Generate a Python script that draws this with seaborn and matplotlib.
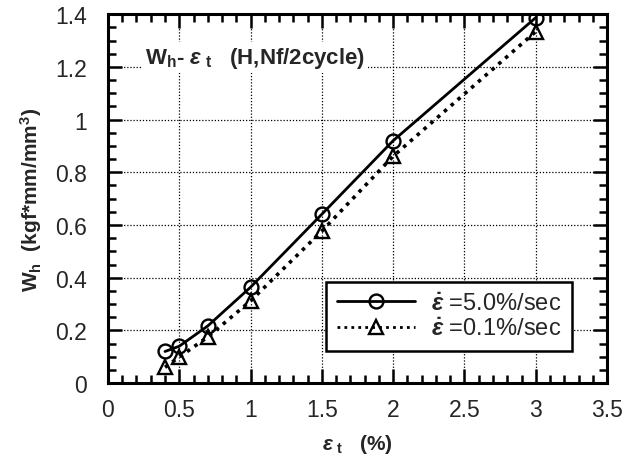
import matplotlib
matplotlib.use("Agg")
import matplotlib.pyplot as plt
import seaborn as sns
import pandas as pd
from matplotlib.ticker import MultipleLocator
from matplotlib.lines import Line2D

strain = [0.4, 0.5, 0.7, 1.0, 1.5, 2.0, 3.0]
wh_fast = [0.12, 0.14, 0.217, 0.364, 0.641, 0.92, 1.387]
wh_slow = [0.06, 0.099, 0.175, 0.312, 0.577, 0.861, 1.334]
labels = [r"$\dot{\varepsilon}$ =5.0%/sec", r"$\dot{\varepsilon}$ =0.1%/sec"]
xticks = [0, 0.5, 1, 1.5, 2, 2.5, 3, 3.5]
xticklabels = ["0", "0.5", "1", "1.5", "2", "2.5", "3", "3.5"]
yticks = [0, 0.2, 0.4, 0.6, 0.8, 1.0, 1.2, 1.4]
yticklabels = ["0", "0.2", "0.4", "0.6", "0.8", "1", "1.2", "1.4"]

df = pd.DataFrame({
    "x": strain * 2,
    "y": wh_fast + wh_slow,
    "rate": [labels[0]] * len(strain) + [labels[1]] * len(strain),
})

sns.set_style("ticks")
plt.rcParams["font.family"] = ["Liberation Sans", "DejaVu Sans"]
plt.rcParams["mathtext.fontset"] = "custom"
plt.rcParams["mathtext.rm"] = "Liberation Sans:bold"
plt.rcParams["mathtext.it"] = "Liberation Sans:italic:bold"
plt.rcParams["mathtext.bf"] = "Liberation Sans:bold"

fig = plt.figure(figsize=(6.37, 4.6), dpi=100)
ax = fig.add_axes([0.1695, 0.165, 0.7835, 0.802])

sns.lineplot(data=df, x="x", y="y", hue="rate", style="rate",
             palette=["black", "black"], dashes=[(None, None), (1, 1.5)],
             markers=["o", "^"], markersize=10, markerfacecolor="none",
             markeredgecolor="black", markeredgewidth=1.7, linewidth=2.0,
             ax=ax, legend=False)

for i, line in enumerate(ax.get_lines()):
    if i == 1:
        line.set_linestyle((0, (1, 1.5)))
        line.set_linewidth(2.6)

ax.set_xlim(0, 3.5)
ax.set_ylim(0, 1.4)
ax.xaxis.set_minor_locator(MultipleLocator(0.1))
ax.yaxis.set_minor_locator(MultipleLocator(0.05))
ax.set_xticks(xticks)
ax.set_xticklabels(xticklabels)
ax.set_yticks(yticks)
ax.set_yticklabels(yticklabels)
ax.tick_params(which="both", direction="in", top=True, right=True, labelsize=16.5, width=1.8, color="black")
ax.tick_params(axis="y", which="major", length=10, pad=15)
ax.tick_params(axis="x", which="major", length=10, pad=11)
ax.tick_params(which="minor", length=6)
for sp in ax.spines.values():
    sp.set_linewidth(2.2)
    sp.set_color("black")
ax.grid(True, which="major", linestyle=(0, (1, 1.5)), color="black", linewidth=0.9)

ax.set_xlabel(r"$\varepsilon_{\ \mathregular{t}}$   (%)", fontsize=15, fontweight="bold", labelpad=8)
ax.set_ylabel(r"W$_{\mathregular{h}}$  (kgf*mm/mm$^{\mathregular{3}}$)", fontsize=15, fontweight="bold", labelpad=8)

ax.text(0.26, 1.235, r"W$_{\mathregular{h}}$- $\varepsilon_{\ \mathregular{t}}$   (H,Nf/2cycle)",
        fontsize=16, fontweight="bold", va="center", ha="left",
        bbox=dict(facecolor="white", edgecolor="none", pad=2))

handles = [
    Line2D([], [], color="black", linewidth=2.0, marker="o", markersize=10,
           markerfacecolor="none", markeredgewidth=1.7),
    Line2D([], [], color="black", linewidth=2.0, linestyle=(0, (1, 1.5)), marker="^",
           markersize=10, markerfacecolor="none", markeredgewidth=1.7),
]
leg = ax.legend(handles, labels, loc="lower right", bbox_to_anchor=(0.93, 0.087),
                borderaxespad=0, fontsize=17, frameon=True, fancybox=False, handlelength=3.3,
                borderpad=0.45, labelspacing=0.15, handletextpad=0.7)
leg.get_frame().set_edgecolor("black")
leg.get_frame().set_linewidth(1.8)
leg.get_frame().set_alpha(1)

fig.savefig("out.png", dpi=100)
